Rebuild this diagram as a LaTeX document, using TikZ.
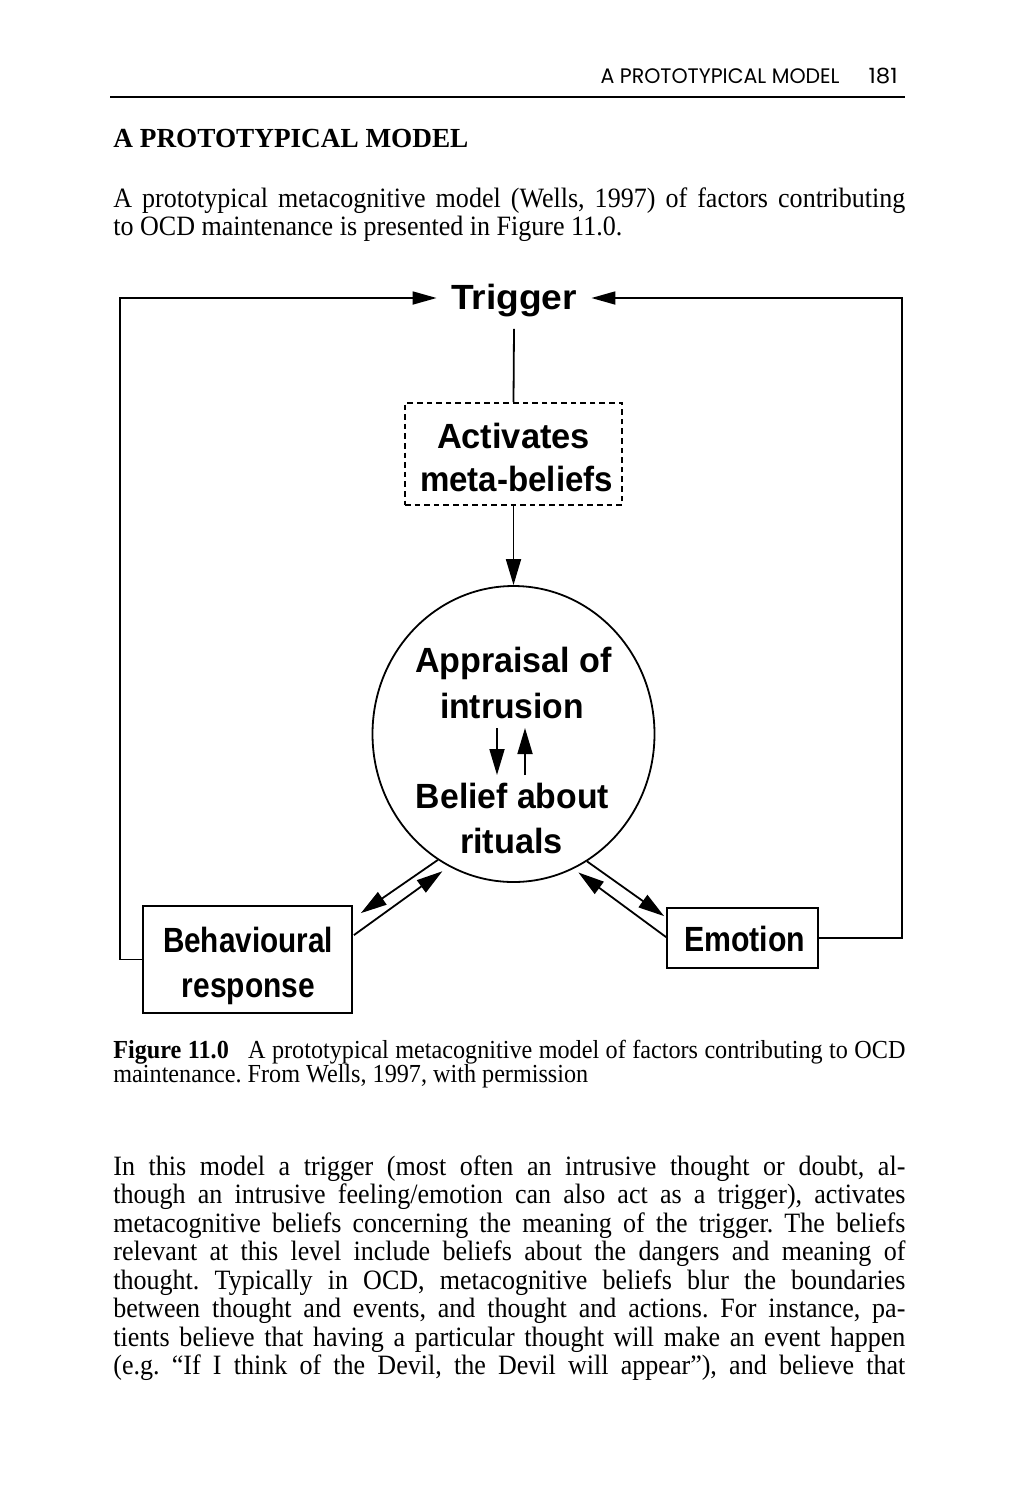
\documentclass[tikz,border=0pt]{standalone}
\usepackage{fontspec}
\usepackage{graphicx}
\setmainfont{Liberation Serif}
\newfontfamily\lblfont{Liberation Sans}
\newfontfamily\hdfont{Poppins}
\usetikzlibrary{arrows.meta,shapes.geometric}
\frenchspacing
\newcommand\dlab[2]{\resizebox{#1}{\height}{\lblfont\bfseries\fontsize{17.5pt}{20pt}\selectfont #2}}
\newcommand\bodysize{\fontsize{14pt}{16pt}\selectfont}
\newcommand\capsize{\fontsize{13pt}{15pt}\selectfont}
\newcommand\bjl[1]{\scalebox{0.93}[1]{\makebox[425.8pt][s]{#1}}}
\newcommand\bnl[1]{\scalebox{0.93}[1]{#1}}
\begin{document}
\begin{tikzpicture}[x=0.5pt,y=-0.5pt,
  txt/.style={inner sep=0pt},
  ln/.style={line width=0.9pt},
  arr/.style={ln,-{Triangle[length=13pt,width=7.5pt]}},
  tarr/.style={ln,-{Triangle[length=12pt,width=6.5pt]}},
  box/.style={draw,ln,rectangle,inner sep=0pt},
  dbox/.style={box,dash pattern=on 2.8pt off 2pt},
  body/.style={txt,anchor=base west,font=\bodysize},
  capt/.style={txt,anchor=base west,font=\capsize},
  lab/.style={txt,anchor=base}
]
\fill[white] (0,0) rectangle (1014,1500);
\useasboundingbox (0,0) rectangle (1014,1500);

% running head
\node[txt,anchor=base east] (hd1) at (840,83) {\resizebox{119.5pt}{\height}{\hdfont\fontsize{10.5pt}{12pt}\selectfont A PROTOTYPICAL MODEL}};
\node[txt,anchor=base east] (hd2) at (898,83) {\resizebox{14.5pt}{\height}{\hdfont\fontsize{10.5pt}{12pt}\selectfont 181}};
\draw[line width=1pt] (110,97) -- (905,97);

% heading
\node[txt,anchor=base west] (head) at (113,147) {\resizebox{177.5pt}{\height}{\bfseries\fontsize{13.8pt}{16pt}\selectfont A PROTOTYPICAL MODEL}};

% paragraph 1
\node[body] (p1a) at (113,207) {\bjl{A prototypical metacognitive model (Wells, 1997) of factors contributing}};
\node[body] (p1b) at (113,235) {\bnl{to OCD maintenance is presented in Figure 11.0.}};

% diagram nodes
\node[txt,anchor=base,inner xsep=7pt,inner ysep=6pt] (trig) at (514,309) {\dlab{63pt}{Trigger}};
\node[dbox,minimum width=108.5pt,minimum height=51pt] (act) at (513.5,454) {};
\node[lab] (actA) at (513.5,448) {\dlab{76.5pt}{Activates}};
\node[lab] (actB) at (516.5,491) {\dlab{96.5pt}{meta-beliefs}};

\node[draw,ln,ellipse,inner sep=0pt,minimum width=141pt,minimum height=148pt] (circ) at (513.5,734) {};
\node[lab] (appA) at (513.5,672) {\dlab{98.5pt}{Appraisal of}};
\node[lab] (appB) at (512,718) {\dlab{72pt}{intrusion}};
\node[lab] (belA) at (512.5,808) {\dlab{96.5pt}{Belief about}};
\node[lab] (belB) at (511.5,853) {\dlab{51.5pt}{rituals}};

\node[box,minimum width=104.5pt,minimum height=53.5pt] (beh) at (247.5,959.5) {};
\node[lab] (behA) at (248,952) {\dlab{85pt}{Behavioural}};
\node[lab] (behB) at (248.5,997) {\dlab{66.5pt}{response}};

\node[box,minimum width=75.5pt,minimum height=30pt] (emo) at (742.5,938) {};
\node[lab] (emoA) at (744.5,951) {\dlab{60.5pt}{Emotion}};

% connectors
\coordinate (lc) at (120,298);
\coordinate (rc) at (902,298);
\draw[tarr] (beh.west) -| (lc) -- (trig.west |- lc);
\draw[tarr] (emo.east) -| (rc) -- (trig.east |- rc);
\draw[ln] (trig.south) -- (act.north);
\draw[arr] (act.south) -- (circ.north);

\draw[arr] ([shift={(-15,10)}]appB.base) -- ([shift={(-15,57)}]appB.base);
\draw[arr] ([shift={(13,57)}]appB.base) -- ([shift={(13,10)}]appB.base);

\draw[arr] (circ.239) -- ([shift={(8,8)}]beh.north east);
\draw[arr,shorten >=4pt] ([shift={(1,30)}]beh.north east) -- (circ.244.5);
\draw[arr] (circ.300) -- ([shift={(-2,9)}]emo.north west);
\draw[arr,shorten >=3pt] ([shift={(0,30)}]emo.north west) -- (circ.294);

% caption
\node[capt] (c1) at (113,1058) {\bjl{\textbf{Figure 11.0}\hspace{0.8em}A prototypical metacognitive model of factors contributing to OCD}};
\node[capt] (c2) at (113,1082) {\bnl{maintenance. From Wells, 1997, with permission}};

% paragraph 2
\node[body] (q1) at (113,1175) {\bjl{In this model a trigger (most often an intrusive thought or doubt, al-}};
\node[body] (q2) at (113,1203.5) {\bjl{though an intrusive feeling/emotion can also act as a trigger), activates}};
\node[body] (q3) at (113,1232) {\bjl{metacognitive beliefs concerning the meaning of the trigger. The beliefs}};
\node[body] (q4) at (113,1260.5) {\bjl{relevant at this level include beliefs about the dangers and meaning of}};
\node[body] (q5) at (113,1289) {\bjl{thought. Typically in OCD, metacognitive beliefs blur the boundaries}};
\node[body] (q6) at (113,1317.5) {\bjl{between thought and events, and thought and actions. For instance, pa-}};
\node[body] (q7) at (113,1346) {\bjl{tients believe that having a particular thought will make an event happen}};
\node[body] (q8) at (113,1374.5) {\bjl{(e.g. ``If I think of the Devil, the Devil will appear''), and believe that}};
\end{tikzpicture}
\end{document}
